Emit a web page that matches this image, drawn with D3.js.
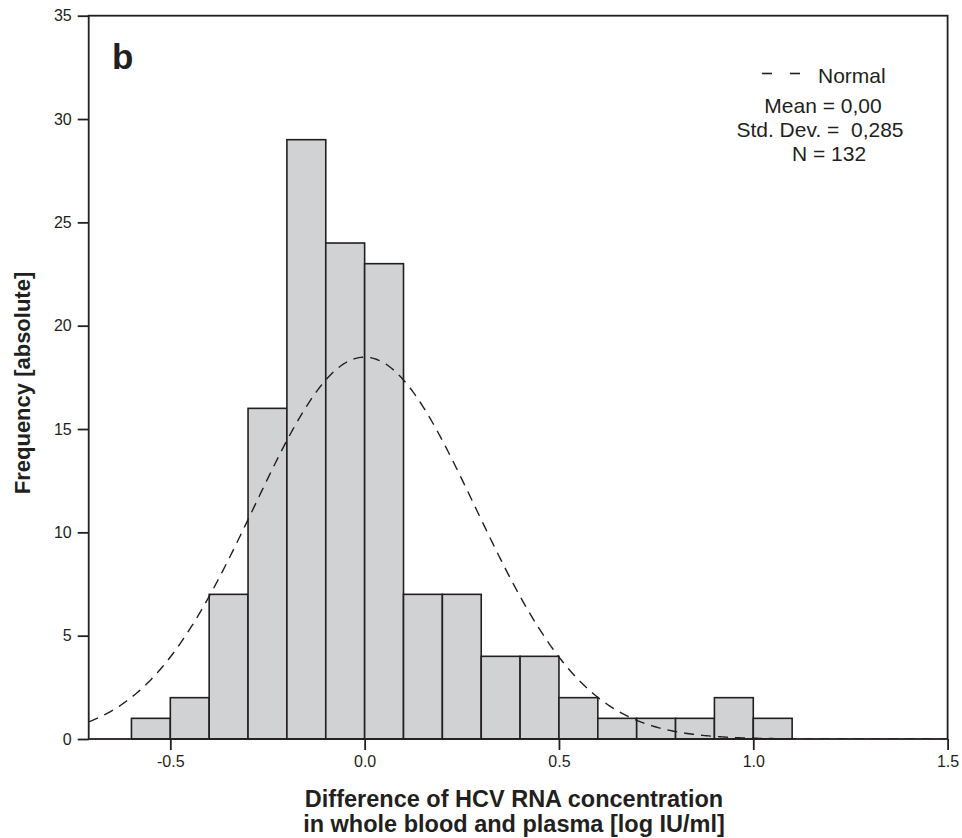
<!DOCTYPE html>
<html>
<head>
<meta charset="utf-8">
<script src="https://cdn.jsdelivr.net/npm/d3@7"></script>
<style>
  html, body { margin: 0; padding: 0; background: #fff; }
  svg { display: block; font-family: "Liberation Sans", Arial, sans-serif; }
</style>
</head>
<body>
<svg id="chart" width="962" height="838"></svg>
<script>
// ---- data ----
const binStarts = [-0.6, -0.5, -0.4, -0.3, -0.2, -0.1, 0.0, 0.1, 0.2, 0.3, 0.4, 0.5, 0.6, 0.7, 0.8, 0.9, 1.0];
const counts    = [1, 2, 7, 16, 29, 24, 23, 7, 7, 4, 4, 2, 1, 1, 1, 2, 1];
const binWidth = 0.1;
const xTicks = [-0.5, 0.0, 0.5, 1.0, 1.5];
const xTickLabels = ["-0.5", "0.0", "0.5", "1.0", "1.5"];
const yTicks = [0, 5, 10, 15, 20, 25, 30, 35];
const normalMean = 0.0;
const normalSD = 0.285;
const normalN = 132;
const legendLines = ["Mean = 0,00", "Std. Dev. =  0,285", "N = 132"];

// ---- layout ----
const svg = d3.select("#chart");
const ink = "#231f20";
const x = d3.scaleLinear().domain([-0.71, 1.5]).range([88.7, 947.6]);
const y = d3.scaleLinear().domain([0, 35]).range([739, 15.7]);

// bars
svg.append("g").selectAll("rect")
  .data(binStarts.map((s, i) => ({ s, c: counts[i] })))
  .join("rect")
  .attr("x", d => x(d.s))
  .attr("width", d => x(d.s + binWidth) - x(d.s))
  .attr("y", d => y(d.c))
  .attr("height", d => y(0) - y(d.c))
  .attr("fill", "#d1d2d4")
  .attr("stroke", ink)
  .attr("stroke-width", 1.6);

// normal curve (from stated mean / SD / N)
svg.append("clipPath").attr("id", "plotclip")
  .append("rect").attr("x", x(-0.71)).attr("y", y(35))
  .attr("width", x(1.5) - x(-0.71)).attr("height", y(0) - y(35));
const xs = d3.range(-0.71, 1.5001, 0.005);
const pdf = v => normalN * binWidth / (normalSD * Math.sqrt(2 * Math.PI)) *
  Math.exp(-0.5 * Math.pow((v - normalMean) / normalSD, 2));
svg.append("path")
  .datum(xs)
  .attr("clip-path", "url(#plotclip)")
  .attr("d", d3.line().x(d => x(d)).y(d => y(pdf(d))))
  .attr("fill", "none")
  .attr("stroke", ink)
  .attr("stroke-width", 1.4)
  .attr("stroke-dasharray", "10,7");

// axes
const xAxis = d3.axisBottom(x).tickValues(xTicks).tickFormat((d, i) => xTickLabels[i])
  .tickSizeInner(11).tickSizeOuter(0).tickPadding(6);
const gx = svg.append("g").attr("transform", `translate(0,${y(0)})`).call(xAxis);
gx.attr("font-size", 16).attr("font-family", "'Liberation Sans', Arial, sans-serif");
gx.select(".domain").remove();
gx.selectAll("line").attr("stroke", ink).attr("stroke-width", 1.8);
gx.selectAll("text").attr("fill", ink);

const yAxis = d3.axisLeft(y).tickValues(yTicks).tickFormat(d3.format("d"))
  .tickSizeInner(11).tickSizeOuter(0).tickPadding(6);
const gy = svg.append("g").attr("transform", `translate(${x(-0.71)},0)`).call(yAxis);
gy.attr("font-size", 16).attr("font-family", "'Liberation Sans', Arial, sans-serif");
gy.select(".domain").remove();
gy.selectAll("line").attr("stroke", ink).attr("stroke-width", 1.8);
gy.selectAll("text").attr("fill", ink);

// frame
svg.append("rect")
  .attr("x", x(-0.71)).attr("y", y(35))
  .attr("width", x(1.5) - x(-0.71)).attr("height", y(0) - y(35))
  .attr("fill", "none").attr("stroke", ink).attr("stroke-width", 1.8);

// panel letter
svg.append("text").attr("x", 112).attr("y", 69)
  .attr("font-size", 35).attr("font-weight", "bold").attr("fill", ink).text("b");

// legend
const lg = svg.append("g").attr("fill", ink).attr("font-size", 21);
lg.append("line").attr("x1", 762).attr("x2", 772).attr("y1", 73.5).attr("y2", 73.5)
  .attr("stroke", ink).attr("stroke-width", 1.6);
lg.append("line").attr("x1", 790).attr("x2", 800).attr("y1", 73.5).attr("y2", 73.5)
  .attr("stroke", ink).attr("stroke-width", 1.6);
lg.append("text").attr("x", 818).attr("y", 82.5).text("Normal");
const legendX = [823, 820, 829];
lg.selectAll("text.stat").data(legendLines).join("text")
  .attr("class", "stat")
  .attr("x", (d, i) => legendX[i])
  .attr("y", (d, i) => 112.5 + i * 24)
  .attr("text-anchor", "middle")
  .style("white-space", "pre")
  .text(d => d);

// axis titles
svg.append("text")
  .attr("transform", `translate(30,383) rotate(-90)`)
  .attr("text-anchor", "middle")
  .attr("font-size", 22).attr("font-weight", "bold").attr("fill", ink)
  .text("Frequency [absolute]");
const xt = svg.append("text").attr("text-anchor", "middle")
  .attr("font-size", 23.5).attr("font-weight", "bold").attr("fill", ink);
xt.append("tspan").attr("x", 514).attr("y", 807).text("Difference of HCV RNA concentration");
xt.append("tspan").attr("x", 514).attr("y", 832).text("in whole blood and plasma [log IU/ml]");
</script>
</body>
</html>
